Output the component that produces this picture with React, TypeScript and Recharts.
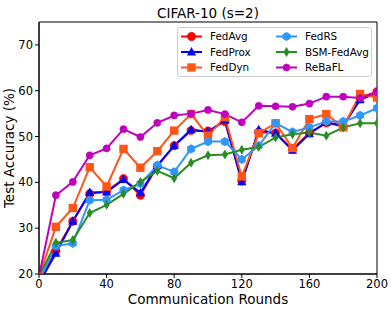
import React from 'react';
import {
    LineChart,
    Line,
    XAxis,
    YAxis,
    Legend,
    ReferenceArea,
} from 'recharts';

// communication rounds (x) and accuracy per method (%)
const rounds = [0, 10, 20, 30, 40, 50, 60, 70, 80, 90, 100, 110, 120, 130, 140, 150, 160, 170, 180, 190, 200];
const fedAvg = [18.5, 25.0, 31.5, 37.5, 38.0, 40.8, 37.2, 43.5, 48.0, 51.3, 51.2, 53.3, 40.3, 51.0, 50.8, 47.2, 50.8, 53.0, 52.2, 58.5, 59.8];
const fedProx = [18.0, 24.5, 31.5, 37.8, 37.9, 40.6, 37.7, 43.7, 48.0, 51.5, 51.0, 53.6, 40.1, 51.5, 50.7, 47.0, 50.6, 53.1, 52.4, 58.0, 59.6];
const fedDyn = [19.5, 30.3, 34.4, 43.3, 39.1, 47.3, 43.2, 46.8, 51.3, 54.9, 50.2, 54.2, 41.3, 50.7, 52.9, 47.5, 53.8, 54.9, 52.0, 59.3, 58.5];
const fedRS = [18.5, 26.1, 26.7, 36.1, 36.2, 38.3, 39.7, 43.7, 42.3, 47.3, 48.9, 48.9, 45.0, 48.0, 52.9, 51.0, 52.0, 53.3, 53.3, 54.6, 56.2];
const bsmFedAvg = [19.5, 26.8, 27.4, 33.3, 35.1, 37.5, 40.1, 42.5, 40.9, 44.3, 45.9, 46.1, 47.1, 47.7, 49.8, 50.5, 50.9, 50.2, 52.0, 52.9, 52.9];
const reBaFL = [19.5, 37.2, 40.1, 45.9, 47.4, 51.6, 49.9, 53.0, 54.6, 55.0, 55.8, 54.9, 53.1, 56.7, 56.6, 56.5, 57.2, 58.7, 58.7, 58.4, 59.6];

const xTicks = [0, 40, 80, 120, 160, 200];
const yTicks = [20, 30, 40, 50, 60, 70];

type MarkerShape = 'circle' | 'triangle' | 'square' | 'hexagon' | 'diamond' | 'smallCircle';

interface Series {
    key: string;
    name: string;
    color: string;
    marker: MarkerShape;
    values: number[];
}

const series: Series[] = [
    { key: 'fedAvg', name: 'FedAvg', color: '#ff0000', marker: 'circle', values: fedAvg },
    { key: 'fedProx', name: 'FedProx', color: '#0000ff', marker: 'triangle', values: fedProx },
    { key: 'fedDyn', name: 'FedDyn', color: '#ff5517', marker: 'square', values: fedDyn },
    { key: 'fedRS', name: 'FedRS', color: '#2f96ff', marker: 'hexagon', values: fedRS },
    { key: 'bsm', name: 'BSM-FedAvg', color: '#2a8c22', marker: 'diamond', values: bsmFedAvg },
    { key: 'rebafl', name: 'ReBaFL', color: '#bf00bf', marker: 'smallCircle', values: reBaFL },
];

const data = rounds.map((r, i) => {
    const row: any = { round: r };
    series.forEach((s) => {
        row[s.key] = s.values[i];
    });
    return row;
});

const FONT = '"DejaVu Sans", sans-serif';

const Marker = ({ shape, cx, cy, color }: { shape: MarkerShape; cx: number; cy: number; color: string }) => {
    if (cx == null || cy == null) return null;
    switch (shape) {
        case 'circle':
            return <circle cx={cx} cy={cy} r={4.2} fill={color} stroke={color} strokeWidth={0.5} />;
        case 'smallCircle':
            return <circle cx={cx} cy={cy} r={3.6} fill={color} stroke={color} strokeWidth={0.5} />;
        case 'square':
            return <rect x={cx - 4.2} y={cy - 4.2} width={8.4} height={8.4} fill={color} />;
        case 'triangle':
            return (
                <polygon
                    points={`${cx},${cy - 5} ${cx + 4.6},${cy + 3.4} ${cx - 4.6},${cy + 3.4}`}
                    fill={color}
                />
            );
        case 'hexagon': {
            const pts = [0, 1, 2, 3, 4, 5]
                .map((k) => {
                    const a = ((90 + 60 * k) * Math.PI) / 180;
                    return `${cx + 4.6 * Math.cos(a)},${cy - 4.6 * Math.sin(a)}`;
                })
                .join(' ');
            return <polygon points={pts} fill={color} />;
        }
        case 'diamond':
            return (
                <polygon
                    points={`${cx},${cy - 5} ${cx + 3},${cy} ${cx},${cy + 5} ${cx - 3},${cy}`}
                    fill={color}
                />
            );
        default:
            return null;
    }
};

const renderLegend = () => {
    const rowY = [8.5, 24, 39.5];
    return (
        <svg width={195} height={50} style={{ display: 'block' }}>
            {series.map((s, i) => {
                const col = i < 3 ? 0 : 1;
                const row = i % 3;
                const x0 = col === 0 ? 3 : 98;
                const y = rowY[row];
                return (
                    <g key={s.key}>
                        <line x1={x0} y1={y} x2={x0 + 21} y2={y} stroke={s.color} strokeWidth={2} />
                        <Marker shape={s.marker} cx={x0 + 10.5} cy={y} color={s.color} />
                        <text
                            x={x0 + 29}
                            y={y}
                            dy="0.36em"
                            fontSize={10.4}
                            fontFamily={FONT}
                            fill="#000"
                        >
                            {s.name}
                        </text>
                    </g>
                );
            })}
        </svg>
    );
};

export default function App() {
    return (
        <div style={{ position: 'absolute', left: 0, top: 0, width: 391, height: 310, background: '#fff' }}>
            <LineChart
                width={391}
                height={310}
                data={data}
                margin={{ top: 22, right: 14, bottom: 0, left: 0 }}
            >
                <XAxis
                    dataKey="round"
                    type="number"
                    domain={[0, 200]}
                    ticks={xTicks}
                    allowDataOverflow
                    height={36}
                    tickSize={4}
                    tickMargin={2}
                    axisLine={{ stroke: '#000' }}
                    tickLine={{ stroke: '#000' }}
                    tick={{ fill: '#000', fontSize: 11.5, fontFamily: FONT }}
                />
                <YAxis
                    type="number"
                    domain={[20, 75]}
                    ticks={yTicks}
                    allowDataOverflow
                    width={39}
                    tickSize={4}
                    tickMargin={2}
                    axisLine={{ stroke: '#000' }}
                    tickLine={{ stroke: '#000' }}
                    tick={{ fill: '#000', fontSize: 11.5, fontFamily: FONT }}
                />
                <ReferenceArea x1={0} x2={200} y1={20} y2={75} fill="none" stroke="#000" strokeWidth={1} />
                {series.map((s) => (
                    <Line
                        key={s.key}
                        dataKey={s.key}
                        name={s.name}
                        stroke={s.color}
                        strokeWidth={2}
                        isAnimationActive={false}
                        dot={(p: any) => (
                            <Marker key={`${s.key}-${p.index}`} shape={s.marker} cx={p.cx} cy={p.cy} color={s.color} />
                        )}
                        activeDot={false}
                    />
                ))}
                <Legend
                    layout="vertical"
                    align="center"
                    verticalAlign="middle"
                    content={renderLegend}
                    wrapperStyle={{
                        position: 'absolute',
                        left: 177,
                        top: 27,
                        width: 195,
                        height: 50,
                        background: 'rgba(255,255,255,0.8)',
                        border: '1px solid #cccccc',
                        borderRadius: 3,
                        boxSizing: 'border-box',
                    }}
                />
                <text x={208} y={13} dy="0.36em" textAnchor="middle" fontSize={13.5} fontFamily={FONT} fill="#000">
                    CIFAR-10 (s=2)
                </text>
                <text x={208} y={299} dy="0.36em" textAnchor="middle" fontSize={13.5} fontFamily={FONT} fill="#000">
                    Communication Rounds
                </text>
                <text
                    x={9}
                    y={148}
                    dy="0.36em"
                    textAnchor="middle"
                    fontSize={13.5}
                    fontFamily={FONT}
                    fill="#000"
                    transform="rotate(-90 9 148)"
                >
                    Test Accuracy (%)
                </text>
            </LineChart>
        </div>
    );
}
